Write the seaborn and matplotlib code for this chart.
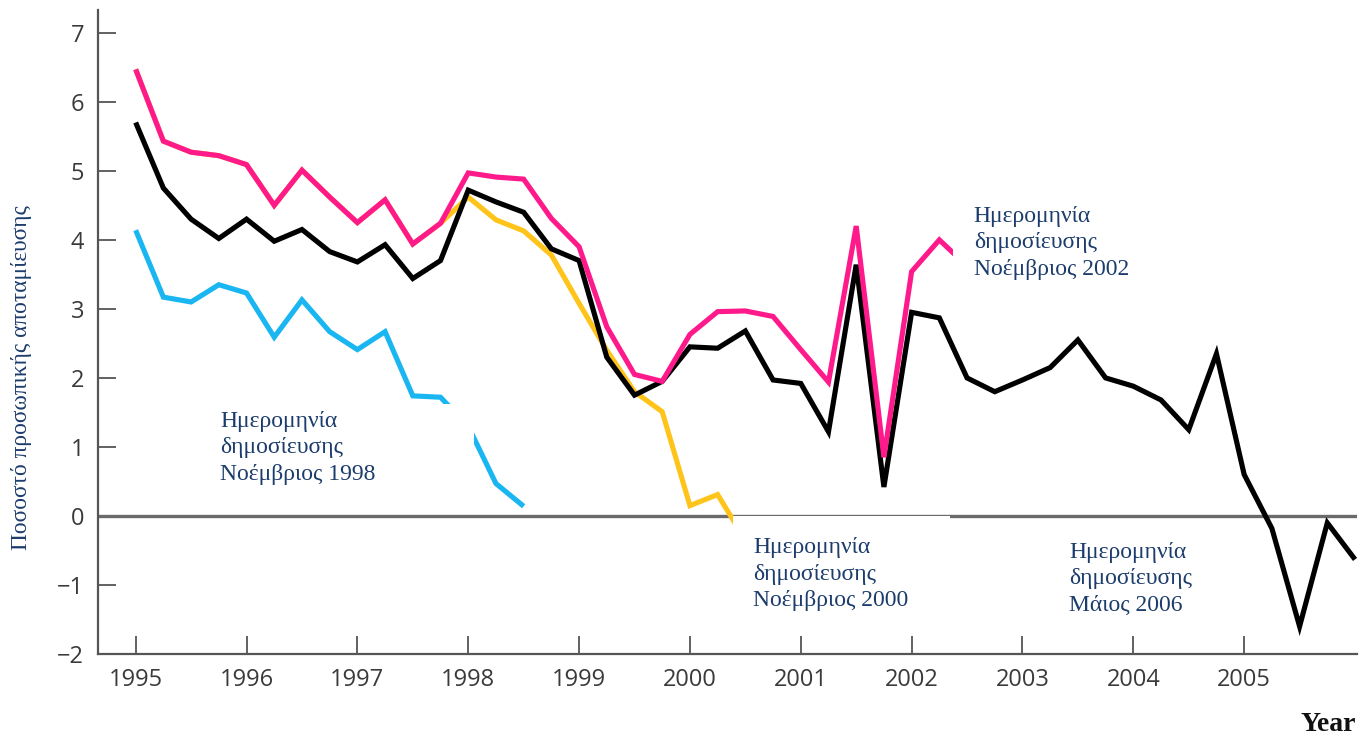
import numpy as np
import pandas as pd
import matplotlib
matplotlib.use("Agg")
import matplotlib.pyplot as plt
from matplotlib.patches import Rectangle
import seaborn as sns

# quarterly release series, personal saving rate (%)
quarters = np.arange(1995, 2006.01, 0.25)

black_vals = [5.70, 4.75, 4.30, 4.02, 4.30, 3.98, 4.15, 3.83, 3.68, 3.93, 3.44, 3.70,
              4.72, 4.55, 4.40, 3.87, 3.70, 2.30, 1.75, 1.95, 2.45, 2.43, 2.68, 1.97,
              1.92, 1.22, 3.64, 0.42, 2.95, 2.87, 2.00, 1.80, 1.97, 2.15, 2.55, 2.00,
              1.88, 1.68, 1.25, 2.35, 0.60, -0.18, -1.60, -0.10, -0.63]
pink_vals = [6.47, 5.43, 5.27, 5.22, 5.09, 4.50, 5.01, 4.62, 4.25, 4.58, 3.94, 4.24,
             4.97, 4.91, 4.88, 4.31, 3.90, 2.74, 2.05, 1.95, 2.63, 2.96, 2.97, 2.89,
             2.41, 1.94, 4.20, 0.85, 3.54, 4.00, 3.62]
yellow_vals = [6.47, 5.43, 5.27, 5.22, 5.09, 4.50, 5.01, 4.62, 4.25, 4.58, 3.94, 4.24,
               4.62, 4.29, 4.13, 3.78, 3.08, 2.40, 1.80, 1.51, 0.15, 0.31, -0.35]
blue_vals = [4.14, 3.17, 3.10, 3.35, 3.23, 2.59, 3.13, 2.67, 2.41, 2.67, 1.74, 1.72,
             1.30, 0.47, 0.14]

year_ticks = list(range(1995, 2006))
y_ticks = list(range(-2, 8))

labels = [
    (1995.76, 1.52, "Ημερομηνία\nδημοσίευσης\nΝοέμβριος 1998"),
    (2000.57, -0.31, "Ημερομηνία\nδημοσίευσης\nΝοέμβριος 2000"),
    (2002.56, 4.49, "Ημερομηνία\nδημοσίευσης\nΝοέμβριος 2002"),
    (2003.42, -0.38, "Ημερομηνία\nδημοσίευσης\nΜάιος 2006"),
]

sns.set_style("ticks")
navy = "#1c3c6c"
axis_grey = "#555555"

fig = plt.figure(figsize=(13.59, 7.41), dpi=100)
ax = fig.add_axes([0.0721, 0.1174, 0.9266, 0.8691])

ax.axhline(0, color="#6a6a6a", lw=2.4, zorder=1)

series = [
    (yellow_vals, "#ffc41a", 3),
    (black_vals, "#000000", 4),
    (pink_vals, "#ff1a8c", 5),
    (blue_vals, "#1ab6f2", 5),
]
for vals, col, z in series:
    df = pd.DataFrame({"q": quarters[:len(vals)], "v": vals})
    sns.lineplot(data=df, x="q", y="v", color=col, lw=3.7, ax=ax, zorder=z,
                 solid_joinstyle="miter", solid_capstyle="butt")

# white boxes behind the release-date notes
covers = [
    (1995.70, 0.25, 2.35, 1.37),
    (2000.39, -1.60, 1.96, 1.60),
    (2002.37, 3.30, 1.50, 1.30),
]
for x0, y0, w, h in covers:
    ax.add_patch(Rectangle((x0, y0), w, h, facecolor="white", edgecolor="none", zorder=8))

for x, y, txt in labels:
    ax.text(x, y, txt, ha="left", va="top", color=navy, fontsize=17,
            family="Liberation Serif", linespacing=1.33, zorder=9)

ax.set_xlim(1994.66, 2006.02)
ax.set_ylim(-2, 7.33)
ax.set_xticks(year_ticks)
ax.set_yticks(y_ticks)
ax.set_yticklabels([f"{t}".replace("-", "\u2212") for t in y_ticks])
ax.tick_params(direction="in", length=13, width=1.3, color=axis_grey,
               labelsize=17, labelcolor="#3a3a3a", pad=10)
for lab in ax.get_xticklabels() + ax.get_yticklabels():
    lab.set_family(["Liberation Sans Narrow", "Open Sans"])
ax.set_xlabel("")
ax.set_ylabel("")
sns.despine(ax=ax)
for side in ["left", "bottom"]:
    ax.spines[side].set_color(axis_grey)
    ax.spines[side].set_linewidth(1.6)

fig.text(0.016, 0.491, "Ποσοστό προσωπικής αποταμίευσης", rotation=90,
         ha="center", va="center", color=navy, fontsize=16.8, family="Liberation Serif")
fig.text(0.998, 0.006, "Year", ha="right", va="bottom", color="#111111",
         fontsize=20, fontweight="bold", family="Liberation Serif")

fig.savefig("out.png", dpi=100)
